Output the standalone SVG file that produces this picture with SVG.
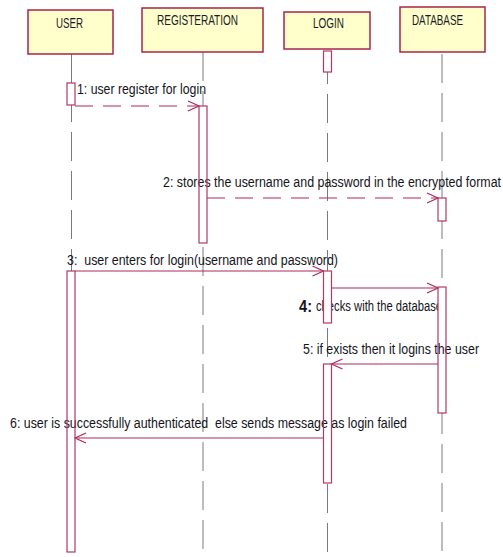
<svg xmlns="http://www.w3.org/2000/svg" width="503" height="557" viewBox="0 0 503 557">
<style>
.box{fill:#ffffcc;stroke:#a8244f;stroke-width:1.5}
.hd{font-family:"Liberation Sans",Arial,sans-serif;font-size:14px;fill:#1a1a2a}
.life{stroke:#7a7a7a;stroke-width:1;fill:none;stroke-dasharray:29 10}
.actf{fill:#ffffff;stroke:none}
.acto{fill:none;stroke:#b03a64;stroke-width:1.2}
.act{fill:#ffffff;stroke:#b03a64;stroke-width:1.2}
.msg{stroke:#b0285a;stroke-width:1.2;fill:none}
.dash{stroke-dasharray:18 10}
.lb{font-family:"Liberation Sans",Arial,sans-serif;font-size:15.5px;fill:#141420}
</style>
<defs>
<marker id="open" markerWidth="14" markerHeight="12" refX="12" refY="6" orient="auto" markerUnits="userSpaceOnUse">
<path d="M1,1 L12,6 L1,11" fill="none" stroke="#b0285a" stroke-width="1.2"/>
</marker>
<clipPath id="clip4"><rect x="300" y="290" width="138" height="30"/></clipPath>
</defs>

<g id="lifelines">
<line class="life" x1="71.5" y1="54" x2="71.5" y2="557"/>
<line class="life" x1="203" y1="52" x2="203" y2="557"/>
<line class="life" x1="327.5" y1="72" x2="327.5" y2="557" stroke-dashoffset="-22"/>
<line class="life" x1="442" y1="52" x2="442" y2="557" stroke-dashoffset="-2"/>
</g>

<g id="USER"><rect class="box" x="28" y="10" width="85" height="44"/><text class="hd" x="56" y="28" textLength="27" lengthAdjust="spacingAndGlyphs">USER</text></g>
<g id="REGISTERATION"><rect class="box" x="142" y="8" width="121" height="44"/><text class="hd" x="157" y="25" textLength="81" lengthAdjust="spacingAndGlyphs">REGISTERATION</text></g>
<g id="LOGIN"><rect class="box" x="284" y="12" width="86" height="37"/><text class="hd" x="313" y="28" textLength="31" lengthAdjust="spacingAndGlyphs">LOGIN</text></g>
<g id="DATABASE"><rect class="box" x="400" y="7" width="85" height="45"/><text class="hd" x="412" y="25" textLength="51" lengthAdjust="spacingAndGlyphs">DATABASE</text></g>

<g id="activation-fills">
<rect class="actf" x="67" y="83" width="8" height="22"/>
<rect class="actf" x="323.5" y="51" width="8" height="21"/>
<rect class="actf" x="199" y="106" width="8" height="137"/>
<rect class="actf" x="438" y="198" width="8" height="23"/>
<rect class="actf" x="67" y="271" width="8" height="281"/>
<rect class="actf" x="323.5" y="364" width="8" height="119"/>
<rect class="actf" x="438" y="287" width="8" height="126"/>
</g>

<g id="connectors">
<line class="msg dash" x1="75" y1="106" x2="199" y2="106" marker-end="url(#open)"/>
<line class="msg dash" x1="207" y1="198" x2="438" y2="198" marker-end="url(#open)"/>
<line class="msg" x1="75" y1="271" x2="323.5" y2="271" marker-end="url(#open)"/>
<line class="msg" x1="331.5" y1="288" x2="438" y2="288" marker-end="url(#open)"/>
<line class="msg" x1="438" y1="364" x2="331.5" y2="364" marker-end="url(#open)"/>
<line class="msg" x1="323.5" y1="438" x2="75" y2="438" marker-end="url(#open)"/>
</g>

<g id="labels">
<text class="lb" x="77" y="94" textLength="129" lengthAdjust="spacingAndGlyphs">1: user register for login</text>
<text class="lb" x="163" y="187" textLength="338" lengthAdjust="spacingAndGlyphs">2: stores the username and password in the encrypted format</text>
<text class="lb" x="67" y="265" textLength="271" lengthAdjust="spacingAndGlyphs" xml:space="preserve">3:  user enters for login(username and password)</text>
<text x="299" y="312" style="font-family:'Liberation Sans',Arial,sans-serif;font-size:17px;font-weight:bold;fill:#141420" textLength="13" lengthAdjust="spacingAndGlyphs">4:</text>
<text class="lb" x="316" y="311" textLength="126" lengthAdjust="spacingAndGlyphs" clip-path="url(#clip4)">checks with the database</text>
<text class="lb" x="303" y="354" textLength="176" lengthAdjust="spacingAndGlyphs">5: if exists then it logins the user</text>
<text class="lb" x="10" y="428" textLength="397" lengthAdjust="spacingAndGlyphs" xml:space="preserve">6: user is successfully authenticated  else sends message as login failed</text>
</g>

<g id="activations">
<rect class="acto" x="67" y="83" width="8" height="22"/>
<rect class="acto" x="323.5" y="51" width="8" height="21"/>
<rect class="acto" x="199" y="106" width="8" height="137"/>
<rect class="acto" x="438" y="198" width="8" height="23"/>
<rect class="acto" x="67" y="271" width="8" height="281"/>
<rect class="act" x="323.5" y="271" width="8" height="52"/>
<rect class="acto" x="438" y="287" width="8" height="126"/>
<rect class="acto" x="323.5" y="364" width="8" height="119"/>
</g>
</svg>
